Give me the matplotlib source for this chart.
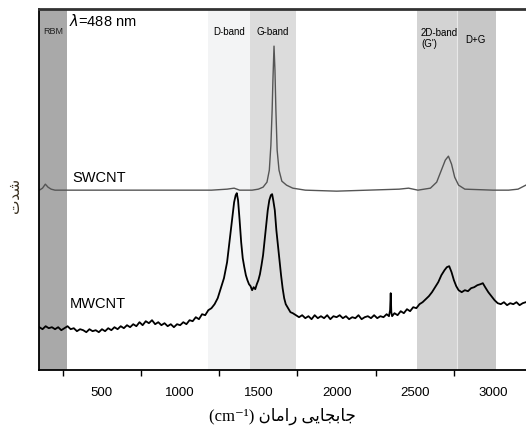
import matplotlib
matplotlib.use('Agg')
import matplotlib.pyplot as plt
from matplotlib.ticker import MultipleLocator

plt.rcParams['font.family'] = ['Liberation Sans', 'DejaVu Sans']

# Raman shift (cm-1) and intensity (a.u.)
sw_shift = [100, 120, 138, 155, 175, 200, 400, 800, 1200, 1300, 1345, 1380, 1460, 1500,
            1530, 1555, 1570, 1580, 1588, 1593, 1600, 1606, 1612, 1620, 1632, 1650, 1680,
            1720, 1800, 2000, 2200, 2400, 2460, 2520, 2600, 2640, 2670, 2695, 2715, 2735,
            2755, 2780, 2820, 3000, 3100, 3160, 3210]
sw_int = [180, 182, 186, 183, 181, 180, 180, 180, 180, 181, 182, 180, 180, 181,
          183, 188, 200, 225, 260, 290, 324, 300, 260, 220, 200, 189, 185,
          182, 180, 179, 180, 181, 182, 180, 182, 188, 200, 210, 214, 206,
          193, 185, 181, 180, 180, 181, 185]

mw_shift = [100, 120, 140, 160, 180, 200, 220, 240, 260, 280, 300, 320, 340, 360, 380, 400,
            420, 440, 460, 480, 500, 520, 540, 560, 580, 600, 620, 640, 660, 680, 700, 720,
            740, 760, 780, 800, 820, 840, 860, 880, 900, 920, 940, 960, 980, 1000, 1020,
            1040, 1060, 1080, 1100, 1120, 1140, 1160, 1180, 1200, 1220, 1240, 1260, 1280,
            1300, 1320, 1335, 1345, 1355, 1362, 1370, 1380, 1390, 1400, 1410, 1420, 1430,
            1440, 1450, 1460, 1470, 1480, 1490, 1500, 1510, 1520, 1530, 1540, 1550, 1560,
            1570, 1580, 1588, 1595, 1605, 1615, 1625, 1635, 1645, 1655, 1665, 1675, 1690,
            1705, 1720, 1740, 1760, 1780, 1800, 1820, 1840, 1860, 1880, 1900, 1920, 1940,
            1960, 1980, 2000, 2020, 2040, 2060, 2080, 2100, 2120, 2140, 2160, 2180, 2200,
            2220, 2240, 2260, 2280, 2300, 2320, 2335, 2342, 2346, 2350, 2355, 2370, 2390,
            2410, 2430, 2450, 2470, 2490, 2510, 2530, 2550, 2570, 2590, 2610, 2630, 2650,
            2670, 2690, 2705, 2720, 2735, 2750, 2765, 2780, 2800, 2820, 2840, 2860, 2880,
            2900, 2920, 2935, 2950, 2970, 2990, 3010, 3030, 3050, 3070, 3090, 3110, 3130,
            3150, 3170, 3190, 3210]
mw_int = [43, 41, 44, 42, 43, 41, 43, 40, 42, 44, 41, 42, 39, 41, 40, 38,
          41, 39, 40, 38, 41, 39, 42, 40, 43, 41, 44, 42, 45, 43, 46, 44,
          48, 45, 49, 47, 50, 46, 48, 45, 47, 44, 46, 43, 46, 45, 48,
          46, 50, 49, 53, 51, 56, 55, 60, 62, 66, 72, 82, 92,
          108, 135, 155, 168, 175, 177, 170, 150, 128, 112, 103, 95, 90,
          86, 84, 80, 83, 81, 86, 90, 96, 105, 115, 130, 145, 160,
          170, 175, 176, 170, 160, 140, 125, 110, 95, 82, 72, 66, 62,
          58, 57, 55, 53, 55, 52, 54, 51, 55, 52, 54, 52, 55,
          51, 54, 53, 55, 52, 54, 51, 53, 52, 55, 51, 53, 54,
          52, 55, 52, 54, 53, 56, 54, 60, 77, 58, 54, 57, 55,
          59, 57, 61, 59, 63, 62, 66, 68, 71, 74, 78, 83, 88,
          95, 100, 103, 104, 98, 90, 84, 80, 78, 80, 79, 82, 83,
          85, 86, 87, 83, 78, 74, 70, 67, 66, 68, 65, 67, 66,
          68, 65, 67, 68]

# shaded regions: (start, end, colour, label)
bands = [(100, 278, '#a9a9a9', 'RBM'),
         (1178, 1445, '#f3f4f5', 'D-band'),
         (1445, 1740, '#dcdcdc', 'G-band'),
         (2515, 2768, '#d3d3d3', "2D-band\n(G')"),
         (2768, 3018, '#c7c7c7', 'D+G')]

fig = plt.figure(figsize=(5.26, 4.34), dpi=100)
ax = fig.add_axes([0.074, 0.147, 0.926, 0.832])

for x0, x1, c, lab in bands:
    ax.axvspan(x0, x1, color=c, lw=0, zorder=0)
ax.axvline(2768, color='#e8e8e8', lw=0.8, zorder=0.5)

ax.plot(sw_shift, sw_int, color='#555555', lw=1.0)
ax.plot(mw_shift, mw_int, color='black', lw=1.3)

ax.set_xlim(97, 3211)
ax.set_ylim(0, 361)

fs_band = 7
ax.text(190, 339, 'RBM', ha='center', va='center', fontsize=6.5, color='#222222')
ax.text(290, 349, r'$\lambda$=488 nm', ha='left', va='center', fontsize=10.5)
ax.text(1310, 338, 'D-band', ha='center', va='center', fontsize=fs_band)
ax.text(1590, 338, 'G-band', ha='center', va='center', fontsize=fs_band)
ax.text(2540, 332, "2D-band\n(G')", ha='left', va='center', fontsize=fs_band,
        linespacing=1.1)
ax.text(2890, 330, 'D+G', ha='center', va='center', fontsize=fs_band)
ax.text(310, 192, 'SWCNT', ha='left', va='center', fontsize=10.5)
ax.text(295, 66, 'MWCNT', ha='left', va='center', fontsize=10.5)

ax.xaxis.set_major_locator(MultipleLocator(500))
ax.xaxis.set_minor_locator(MultipleLocator(250))
ax.tick_params(axis='x', which='major', direction='in', length=0, labelsize=9.5, pad=12)
ax.tick_params(axis='x', which='minor', direction='out', length=4, width=1)
ax.set_yticks([])

ax.spines['right'].set_visible(False)
ax.spines['top'].set_linewidth(2.0)
ax.spines['top'].set_color('#333333')
ax.spines['left'].set_linewidth(1.3)
ax.spines['bottom'].set_linewidth(1.3)

# Persian labels written in presentation forms (visual order)
xlab = '(cm\u207b\u00b9) ' + '\ufee5\ufe8e\ufee3\ufe8d\ufead' + ' ' + \
       '\ufef0\ufef3\ufe8e\ufea0\ufe91\ufe8e\ufe9f'
ax.set_xlabel(xlab, fontsize=12, family=['Liberation Serif', 'DejaVu Sans'], labelpad=6)
ylab = '\ufe95\ufeaa\ufeb7'
fig.text(0.027, 0.55, ylab, rotation=90, ha='center', va='center', fontsize=11,
         color='#3a3020', family=['DejaVu Sans'])

fig.savefig('out.png', dpi=100)
